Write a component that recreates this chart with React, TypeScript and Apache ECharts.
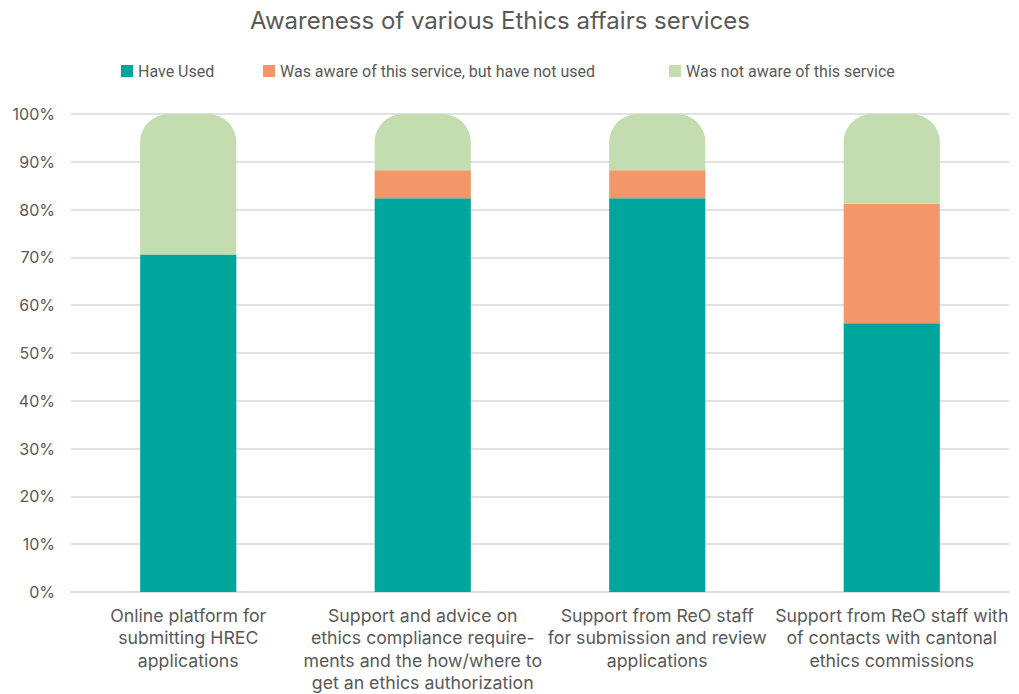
import React, { useEffect, useRef } from "react";
import * as echarts from "echarts";

const categories = [
  "Online platform for\nsubmitting HREC\napplications",
  "Support and advice on\nethics compliance require-\nments and the how/where to\nget an ethics authorization",
  "Support from ReO staff\nfor submission and review\napplications",
  "Support from ReO staff with\nof contacts with cantonal\nethics commissions",
];
const haveUsed = [70.6, 82.35, 82.35, 56.25];
const awareNotUsed = [0, 5.88, 5.88, 25];
const notAware = [29.4, 11.77, 11.77, 18.75];
const seriesNames = [
  "Have Used",
  "Was aware of this service, but have not used",
  "Was not aware of this service",
];
const yTicks = [0, 10, 20, 30, 40, 50, 60, 70, 80, 90, 100];

export default function App() {
  const ref = useRef<HTMLDivElement>(null);
  useEffect(() => {
    if (!ref.current) return;
    const chart = echarts.init(ref.current, null, { renderer: "svg" });
    const font = "Inter, 'Noto Sans', sans-serif";
    const legendBase = {
      top: 63,
      padding: 0,
      itemWidth: 12,
      itemHeight: 12,
      itemGap: 4,
      icon: "rect",
      textStyle: { color: "#595959", fontSize: 16, fontFamily: "Roboto, sans-serif" },
    };
    chart.setOption({
      animation: false,
      color: ["#00A59C", "#F3976A", "#C3DDB0"],
      title: {
        text: "Awareness of various Ethics affairs services",
        left: 245,
        top: 3,
        textStyle: { color: "#595959", fontSize: 24, fontWeight: "normal", fontFamily: font },
      },
      legend: [
        { ...legendBase, left: 121, data: [seriesNames[0]] },
        { ...legendBase, left: 263, data: [seriesNames[1]] },
        { ...legendBase, left: 669, data: [seriesNames[2]] },
      ],
      grid: { left: 71, right: 10, top: 114, bottom: 99, containLabel: false },
      xAxis: {
        type: "category",
        data: categories,
        axisLine: { lineStyle: { color: "#d9d9d9", width: 1.5 } },
        axisTick: { show: false },
        axisLabel: {
          color: "#595959",
          fontSize: 17.7,
          fontFamily: font,
          lineHeight: 22.5,
          margin: 12,
          interval: 0,
        },
      },
      yAxis: {
        type: "value",
        min: yTicks[0],
        max: yTicks[yTicks.length - 1],
        interval: 10,
        axisLine: { show: false },
        axisTick: { show: false },
        splitLine: { lineStyle: { color: "#d9d9d9", width: 1.5 } },
        axisLabel: {
          formatter: "{value}%",
          color: "#595959",
          fontSize: 16,
          fontFamily: font,
          margin: 16,
        },
      },
      series: [
        { name: seriesNames[0], type: "bar", stack: "a", barWidth: "41%", data: haveUsed },
        { name: seriesNames[1], type: "bar", stack: "a", barWidth: "41%", data: awareNotUsed },
        {
          name: seriesNames[2],
          type: "bar",
          stack: "a",
          barWidth: "41%",
          data: notAware,
          itemStyle: { borderRadius: [28, 28, 0, 0] },
        },
      ],
    });
    return () => chart.dispose();
  }, []);
  return (
    <div
      ref={ref}
      style={{ position: "absolute", left: 0, top: 0, width: 1019, height: 694 }}
    />
  );
}
